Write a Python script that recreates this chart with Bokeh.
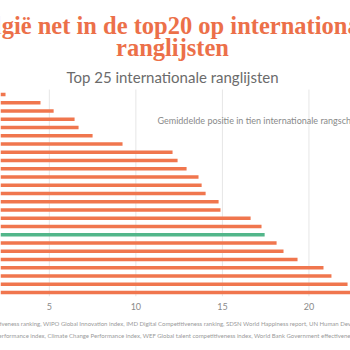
from bokeh.plotting import figure
from bokeh.models import Range1d, FixedTicker, Label, ColumnDataSource, Title
from bokeh.embed import file_html
from bokeh.resources import INLINE

# ---- data ----
ranks = list(range(1, 26))
avg_position = [2.47, 4.49, 5.25, 6.46, 6.69, 7.50, 9.23, 12.12, 12.41, 12.93,
                13.62, 13.80, 14.03, 14.78, 14.89, 16.63, 17.26, 17.44, 18.13, 18.53,
                19.34, 20.84, 21.30, 22.23, 23.00]
highlight_rank = 18  # België
x_ticks = [5, 10, 15, 20]

title_line1 = "België net in de top20 op internationale"
title_line2 = "ranglijsten"
subtitle = "Top 25 internationale ranglijsten"
annotation = "Gemiddelde positie in tien internationale rangschikkingen"
note_line1 = ("Bron: IMD World Competitiveness ranking, WIPO Global Innovation index, "
              "IMD Digital Competitiveness ranking, SDSN World Happiness report, UN Human Development")
note_line2 = ("index, Environmental Performance index, Climate Change Performance index, "
              "WEF Global talent competitiveness index, World Bank Government effectiveness index")

ORANGE = "#F0764E"
GREEN = "#52B68A"
TITLE_ORANGE = "#EC7049"

n = len(ranks)
colors = [GREEN if r == highlight_rank else ORANGE for r in ranks]
src = ColumnDataSource(dict(idx=[r - 1 for r in ranks], val=avg_position,
                            left=[0] * n, color=colors))

# frame covers the whole canvas above the axis; rank 1 at the top
p = figure(width=350, height=350, output_backend="svg", toolbar_location=None,
           x_range=Range1d(2.18, 22.40), y_range=Range1d(24.48, -11.39),
           y_axis_location=None, min_border_left=0, min_border_right=0,
           min_border_top=0, min_border_bottom=54)
p.outline_line_color = None
p.background_fill_color = "white"
p.border_fill_color = "white"
p.xgrid.grid_line_color = None
p.ygrid.grid_line_color = None

# vertical grid lines only over the bar area
p.segment(x0=x_ticks, x1=x_ticks, y0=[-0.6] * len(x_ticks), y1=[24.48] * len(x_ticks),
          line_color="#e6e6e6", line_width=1)

p.hbar(y="idx", right="val", left="left", height=0.42, fill_color="color",
       line_color=None, source=src)

p.xaxis.ticker = FixedTicker(ticks=x_ticks)
p.xaxis.axis_line_color = None
p.xaxis.major_tick_line_color = None
p.xaxis.minor_tick_line_color = None
p.xaxis.major_tick_out = 0
p.xaxis.major_tick_in = 0
p.xaxis.minor_tick_out = 0
p.xaxis.major_label_text_font = "Lato"
p.xaxis.major_label_text_font_size = "9px"
p.xaxis.major_label_text_color = "#8a8a8a"
p.xaxis.major_label_standoff = 6

def lab(text, x, y, size, color, font, style="normal", align="center", baseline="alphabetic"):
    p.add_layout(Label(x=x, y=y, x_units="screen", y_units="screen", text=text,
                       text_font=font, text_font_size=size, text_color=color,
                       text_font_style=style, text_align=align, text_baseline=baseline))

# screen units: from frame left, and up from frame bottom (canvas y = 296 - y)
lab(title_line1, 172, 271, "24.5px", TITLE_ORANGE, "Liberation Serif", style="bold")
lab(title_line2, 172, 249, "24.5px", TITLE_ORANGE, "Liberation Serif", style="bold")
lab(subtitle, 172, 220, "15px", "#6b6b6b", "Lato")
lab(annotation, 157, 176, "9px", "#8a8a8a", "Lato", align="left", baseline="middle")

# source notes below the axis
p.add_layout(Title(text=note_line1, align="left", offset=-72, vertical_align="bottom", standoff=10,
                   text_font="Lato", text_font_size="6px", text_font_style="normal",
                   text_color="#9a9a9a"), "below")
p.add_layout(Title(text=note_line2, align="left", offset=-62, vertical_align="top", standoff=0,
                   text_font="Lato", text_font_size="6px", text_font_style="normal",
                   text_color="#9a9a9a"), "below")

open("out.html", "w").write(file_html(p, INLINE))
